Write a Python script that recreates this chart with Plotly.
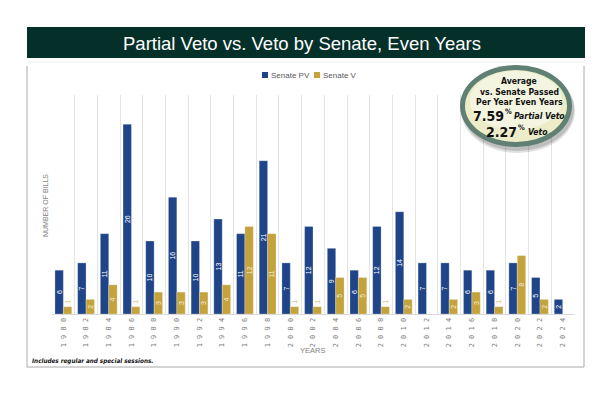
import plotly.graph_objects as go

# ---------------- data ----------------
years = [1980, 1982, 1984, 1986, 1988, 1990, 1992, 1994, 1996, 1998, 2000, 2002,
         2004, 2006, 2008, 2010, 2012, 2014, 2016, 2018, 2020, 2022, 2024]
senate_pv = [6, 7, 11, 26, 10, 16, 10, 13, 11, 21, 7, 12, 9, 6, 12, 14, 7, 7, 6, 6, 7, 5, 2]
senate_v = [1, 2, 4, 1, 3, 3, 3, 4, 12, 11, 1, 1, 5, 5, 1, 2, None, 2, 3, 1, 8, 2, None]
series_names = ["Senate PV", "Senate V"]
title_text = "Partial Veto vs. Veto by Senate, Even Years"
avg_pv_pct = 7.59
avg_v_pct = 2.27
footnote = "Includes regular and special sessions."

# ---------------- layout geometry ----------------
W, H = 612, 396
OFF = 8  # page body margin
L, R, T, B = 44, 46, 87, 90
PW, PH = W - L - R, H - T - B

def px(x):
    return (x - OFF - L) / PW

def py(y):
    return (H - B - (y - OFF)) / PH

BLUE = "#1F4588"
GOLD = "#C4A23C"
GRAY = "#7F7F7F"
NARROW = "DejaVu Sans Condensed, Liberation Sans Narrow, Liberation Sans, sans-serif"

cats = [str(y) for y in years]
ticktext = ["\u2009".join(list(str(y))) for y in years]

def positions(vals):
    return ["outside" if (v is not None and v <= 1) else "inside" for v in vals]

fig = go.Figure()
fig.add_trace(go.Bar(
    x=cats, y=senate_pv, name=series_names[0],
    marker=dict(color=BLUE, line=dict(color="rgba(255,255,255,0.5)", width=0.5)),
    text=[str(v) for v in senate_pv], textposition=positions(senate_pv),
    textangle=-90, insidetextanchor="middle",
    insidetextfont=dict(color="white", size=7, family="Liberation Sans"),
    outsidetextfont=dict(color=BLUE, size=7, family="Liberation Sans"),
    cliponaxis=False, showlegend=False,
))
fig.add_trace(go.Bar(
    x=cats, y=senate_v, name=series_names[1],
    marker=dict(color=GOLD, line=dict(color="rgba(255,255,255,0.5)", width=0.5)),
    text=[("" if v is None else str(v)) for v in senate_v], textposition=positions(senate_v),
    textangle=-90, insidetextanchor="middle",
    insidetextfont=dict(color="#F7F0D8", size=7, family="Liberation Sans"),
    outsidetextfont=dict(color="#D2B964", size=7, family="Liberation Sans"),
    cliponaxis=False, showlegend=False,
))

shapes = []
annotations = []

def note(text, x, y, size, family, color="#111111", xanchor="center", angle=0):
    annotations.append(dict(text=text, xref="paper", yref="paper", x=px(x), y=py(y),
                            xanchor=xanchor, yanchor="middle", showarrow=False,
                            textangle=angle, borderpad=0,
                            font=dict(color=color, size=size, family=family)))

# title bar
shapes.append(dict(type="rect", xref="paper", yref="paper",
                   x0=px(27), x1=px(585), y0=py(58), y1=py(27),
                   fillcolor="#05302A", line=dict(width=0), layer="above"))
note(title_text, 302, 43, 18.5, "Liberation Sans", color="white")

# frame
for (x0, y0, x1, y1, c) in [(27, 66, 27, 367, "#A8A8A8"), (584, 66, 584, 367, "#A8A8A8"),
                            (27, 367, 584, 367, "#A8A8A8"), (27, 62, 584, 62, "#F0F0F0")]:
    shapes.append(dict(type="line", xref="paper", yref="paper",
                       x0=px(x0), x1=px(x1), y0=py(y0), y1=py(y1),
                       line=dict(color=c, width=1)))

# custom legend
leg = [(262, BLUE, series_names[0]), (314, GOLD, series_names[1])]
for x0, c, name in leg:
    shapes.append(dict(type="rect", xref="paper", yref="paper",
                       x0=px(x0), x1=px(x0 + 6), y0=py(78), y1=py(72),
                       fillcolor=c, line=dict(width=0)))
    note(name, x0 + 8, 75, 8, "Liberation Sans", color="#595959", xanchor="left")

# badge (shadow, ring, fill)
for (x0, x1, y0, y1, fc) in [(461, 575, 153, 68, "rgba(0,0,0,0.12)"),
                             (462, 574, 151, 68, "rgba(0,0,0,0.15)"),
                             (460, 572, 147, 65, "#5F8072"),
                             (465, 567, 142, 70, "#ECEDC8"),
                             (470, 562, 130, 71, "rgba(255,255,255,0.45)")]:
    shapes.append(dict(type="circle", xref="paper", yref="paper",
                       x0=px(x0), x1=px(x1), y0=py(y0), y1=py(y1),
                       fillcolor=fc, line=dict(width=0), layer="above"))

badge_lines = [("Average", 81), ("vs. Senate Passed", 92), ("Per Year Even Years", 102)]
for txt, yy in badge_lines:
    note("<b>" + txt + "</b>", 519, yy, 8.6, NARROW)

note("<b>%.2f</b>" % avg_pv_pct, 505, 116, 14, NARROW, xanchor="right")
note("<b>%</b>", 504, 111, 7.5, NARROW, xanchor="left")
note("<b><i>Partial Veto</i></b>", 513, 116, 8.6, NARROW, xanchor="left")
note("<b>%.2f</b>" % avg_v_pct, 518, 132, 14, NARROW, xanchor="right")
note("<b>%</b>", 517, 127, 7.5, NARROW, xanchor="left")
note("<b><i>Veto</i></b>", 527, 132, 8.6, NARROW, xanchor="left")

# axis titles
note("NUMBER OF BILLS", 45, 206, 7, "Liberation Sans", color=GRAY, angle=-90)
note("YEARS", 312, 350, 7.5, "Liberation Sans", color=GRAY)

# footnote
note("<b><i>" + footnote + "</i></b>", 31, 361, 6.3, NARROW, xanchor="left")

fig.update_layout(
    width=W, height=H,
    margin=dict(l=L, r=R, t=T, b=B),
    paper_bgcolor="white", plot_bgcolor="white",
    barmode="group", bargap=0.26, bargroupgap=0,
    uniformtext=dict(minsize=7, mode="show"),
    shapes=shapes, annotations=annotations,
    showlegend=False,
    xaxis=dict(type="category", tickmode="array", tickvals=cats, ticktext=ticktext,
               tickangle=-90, tickson="boundaries", showgrid=True,
               gridcolor="#E3E3E3", gridwidth=1, ticks="", showline=True,
               linecolor="#D9D9D9", linewidth=1, zeroline=False,
               tickfont=dict(color=GRAY, size=7, family="DejaVu Sans Mono"),
               range=[-0.5, len(cats) - 0.5]),
    yaxis=dict(range=[0, 30], showticklabels=False, showgrid=False,
               zeroline=False, showline=False, ticks=""),
)

fig.write_html("out.html")
